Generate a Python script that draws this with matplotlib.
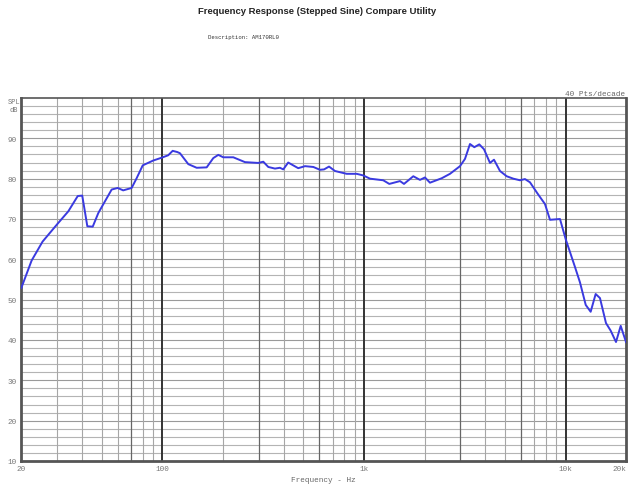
import matplotlib
matplotlib.use("Agg")
import matplotlib.pyplot as plt

freq_hz = [20, 22.5, 25.5, 30, 34.2, 38.1, 40.1, 42.5, 45.2, 48.2,
           56.1, 60.1, 64.0, 70.5, 74.6, 80.0, 90.2, 99.3, 107, 112.6,
           118.7, 122.4, 134.6, 148.1, 166, 179, 189.5, 200.6, 224.9, 257,
           299, 316.8, 335.4, 362, 383, 398, 421, 472, 510, 561,
           605, 634, 671, 718, 821, 920, 992, 1071, 1246, 1335,
           1509, 1579, 1756, 1895, 2006, 2124, 2428, 2669, 2992, 3168,
           3354, 3523, 3730, 3935, 4214, 4411, 4724, 5099, 5500, 5936,
           6284, 6653, 7231, 7896, 8360, 9370, 10000, 11120, 11770, 12570,
           13300, 14080, 14790, 15840, 16720, 17760, 18740, 19910]
spl_db = [52.9, 59.7, 64.4, 68.6, 71.9, 75.7, 75.8, 68.2, 68.1, 71.5,
          77.3, 77.7, 77.1, 77.7, 80.1, 83.3, 84.5, 85.2, 85.8, 86.9,
          86.6, 86.3, 83.6, 82.7, 82.8, 85.1, 85.9, 85.3, 85.3, 84.1,
          83.9, 84.2, 82.9, 82.5, 82.7, 82.3, 84.0, 82.6, 83.1, 82.9,
          82.2, 82.3, 83.0, 81.9, 81.2, 81.2, 80.8, 80.0, 79.6, 78.7,
          79.4, 78.7, 80.6, 79.7, 80.3, 79.0, 80.1, 81.2, 83.1, 84.9,
          88.6, 87.8, 88.5, 87.3, 83.9, 84.7, 81.9, 80.6, 80.0, 79.6,
          79.9, 79.1, 76.4, 73.7, 69.8, 70.0, 65.0, 58.1, 54.3, 48.7,
          47.0, 51.4, 50.4, 44.2, 42.3, 39.5, 43.5, 39.5]

x_ticks = [20, 100, 1000, 10000, 20000]
x_labels = ["20", "100", "1k", "10k", "20k"]
y_ticks = [10, 20, 30, 40, 50, 60, 70, 80, 90]

mono = ["Liberation Mono", "DejaVu Sans Mono"]

fig = plt.figure(figsize=(6.31, 4.85), dpi=100)
ax = fig.add_axes([21.3 / 631, 1 - 462 / 485, (626.4 - 21.3) / 631, (462 - 99) / 485])
ax.set_xscale("log")
ax.set_xlim(20, 20000)
ax.set_ylim(10, 100)

# grid: every 2 dB, every 1..9 per decade
for db in range(12, 100, 2):
    col = "#9a9a9a" if db % 10 == 0 else "#b4b4b4"
    ax.axhline(db, color=col, lw=0.8, zorder=1)

grid_f = []
for dec in [10, 100, 1000, 10000]:
    for m in range(1, 10):
        f = m * dec
        if 20 < f < 20000:
            grid_f.append(f)
for f in grid_f:
    if f in (100, 1000, 10000):
        ax.axvline(f, color="#333333", lw=1.4, zorder=1)
    elif f in (70, 300, 600, 3000, 6000):
        ax.axvline(f, color="#666666", lw=0.9, zorder=1)
    else:
        ax.axvline(f, color="#a6a6a6", lw=0.8, zorder=1)

ax.plot(freq_hz, spl_db, color="#3a3ae0", lw=1.4, zorder=3)

for side in ["left", "bottom", "right"]:
    ax.spines[side].set_linewidth(2)
    ax.spines[side].set_color("#555555")
ax.spines["top"].set_linewidth(1.2)
ax.spines["top"].set_color("#555555")

ax.set_xticks(x_ticks)
ax.set_xticklabels(x_labels)
ax.xaxis.set_minor_locator(matplotlib.ticker.NullLocator())
ax.set_yticks(y_ticks)
ax.tick_params(length=0, labelsize=5.5, labelcolor="#777777", pad=3)
for lab in ax.get_xticklabels() + ax.get_yticklabels():
    lab.set_family(mono)
ax.get_xticklabels()[-1].set_horizontalalignment("right")

ax.set_xlabel("Frequency - Hz", fontsize=5.5, color="#666666", family=mono, labelpad=3)

fig.text(14 / 631, 1 - 102 / 485, "SPL", fontsize=5, color="#777777", family=mono, ha="center", va="center")
fig.text(14 / 631, 1 - 111 / 485, "dB", fontsize=5, color="#777777", family=mono, ha="center", va="center")
fig.text(625 / 631, 1 - 95 / 485, "40 Pts/decade", fontsize=5.5, color="#666666", family=mono, ha="right", va="center")
fig.text(317 / 631, 1 - 12 / 485, "Frequency Response (Stepped Sine) Compare Utility",
         fontsize=6.8, fontweight="bold", family="Liberation Sans",
         ha="center", va="center", color="#222222")
fig.text(208 / 631, 1 - 37 / 485, "Description: AM170RL0", fontsize=4.1, color="#333333",
         family=mono, ha="left", va="center")

fig.savefig("out.png", dpi=100)
